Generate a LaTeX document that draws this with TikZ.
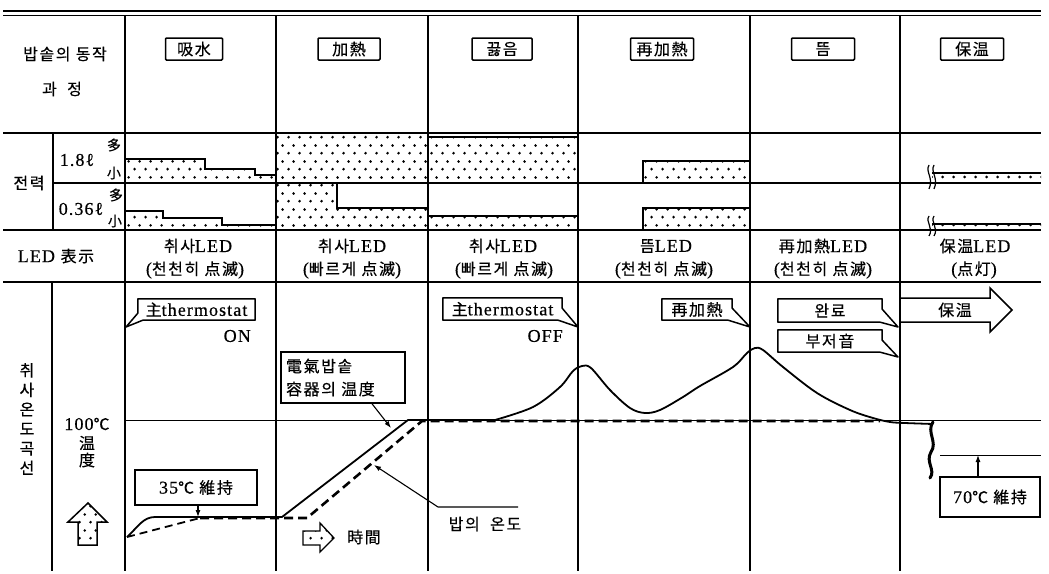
\documentclass[tikz,border=0pt]{standalone}
\usepackage{fontspec}
\setmainfont{Liberation Serif}[LetterSpace=6, FakeBold=0.5]
\newfontfamily\kr{Noto Sans CJK KR}[LetterSpace=10, FakeBold=0.4]
\usetikzlibrary{patterns.meta,arrows.meta}
\newcommand\KR[1]{{\kr\fontsize{16}{19}\selectfont #1}}
\newcommand\KRs[1]{{\kr\fontsize{14}{16}\selectfont #1}}
\tikzdeclarepattern{name=sdots, type=uncolored, bottom left={(0pt,0pt)}, top right={(11pt,16pt)}, tile size={(11pt,16pt)}, code={\fill (2.75pt,4pt) circle [radius=1.5pt]; \fill (8.25pt,12pt) circle [radius=1.5pt];}}
\begin{document}
\begin{tikzpicture}[x=1pt,y=-1pt,
 every node/.style={inner sep=0pt, font=\fontsize{18}{21}\selectfont},
 rule/.style={line width=1.3pt},
 stagebox/.style={draw, line width=1.5pt, rounded corners=1pt, minimum height=22pt, font=\kr\fontsize{16}{19}\selectfont},
 bubble/.style={line width=1.5pt, line join=round},
 dotfill/.style={pattern={sdots}, pattern color=black},
 bartop/.style={line width=2.6pt},
 tcurve/.style={line width=1.8pt, line join=round},
 rice/.style={line width=2.6pt, dash pattern=on 9pt off 5pt},
 ricethin/.style={line width=1.8pt, dash pattern=on 8pt off 5pt},
 ptr/.style={line width=1.1pt, -{Latex[length=7pt,width=5pt]}},
 fatarrow/.style={draw, line width=1.5pt, line join=miter, dotfill},
]
\fill[white] (0,0) rectangle (1049,573);
\useasboundingbox (0,0) rectangle (1049,573);

% ---------- power bars ----------
\fill[dotfill] (126,183) -- (126,159) -- (205,159) -- (205,169) -- (255,169) -- (255,175) -- (276,175) -- (276,183) -- cycle;
\draw[bartop] (126,159) -- (205,159) -- (205,169) -- (255,169) -- (255,175) -- (276,175);
\fill[dotfill] (126,230) -- (126,211) -- (163,211) -- (163,218) -- (222,218) -- (222,225) -- (276,225) -- (276,230) -- cycle;
\draw[bartop] (126,211) -- (163,211) -- (163,218) -- (222,218) -- (222,225) -- (276,225);
\fill[dotfill] (276,134) rectangle (428,183);
\fill[dotfill] (276,184) -- (337,184) -- (337,208) -- (428,208) -- (428,230) -- (276,230) -- cycle;
\draw[bartop] (337,184) -- (337,208) -- (428,208);
\fill[dotfill] (428,137) rectangle (578,183);
\draw[bartop] (428,137) -- (578,137);
\fill[dotfill] (428,216) rectangle (578,230);
\draw[bartop] (428,216) -- (578,216);
\fill[dotfill] (643,161) rectangle (750,183);
\draw[bartop] (643,183) -- (643,161) -- (750,161);
\fill[dotfill] (643,208) rectangle (750,230);
\draw[bartop] (643,230) -- (643,208) -- (750,208);
\fill[dotfill] (932,173) rectangle (1041,183);
\draw[bartop] (932,173) -- (1041,173);
\fill[dotfill] (932,224) rectangle (1041,230);
\draw[bartop] (932,224) -- (1041,224);
\draw[line width=1.2pt] (929,165) .. controls (925,172) and (934,178) .. (929,189);
\draw[line width=1.2pt] (934,165) .. controls (930,172) and (939,178) .. (934,189);
\draw[line width=1.2pt] (929,216) .. controls (925,222) and (934,228) .. (929,236);
\draw[line width=1.2pt] (934,216) .. controls (930,222) and (939,228) .. (934,236);

% ---------- grid ----------
\draw[line width=2.4pt] (3,11) -- (1041,11);
\draw[line width=0.8pt] (3,15.5) -- (1041,15.5);
\draw[rule] (3,133) -- (1041,133);
\draw[rule] (53,183) -- (1041,183);
\draw[rule] (3,230) -- (1041,230);
\draw[rule] (3,282) -- (1041,282);
\foreach \x in {125,276,428,578,750,900} \draw[rule] (\x,15) -- (\x,571);
\draw[rule] (53,133) -- (53,230);
\draw[rule] (52,282) -- (52,571);
\draw[line width=0.9pt] (125,420) -- (1041,420);
\draw[line width=0.9pt] (940,455) -- (1041,455);

% ---------- header row ----------
\node (r1a) at (65,54) {\KR{밥솥의\ 동작}};
\node (r1b) at (62,89) {\KR{과\ \ 정}};
\node[stagebox, minimum width=57pt] (s1) at (194,49) {吸水};
\node[stagebox, minimum width=62pt] (s2) at (349,49) {加熱};
\node[stagebox, minimum width=60pt] (s3) at (502,49) {끓음};
\node[stagebox, minimum width=63pt] (s4) at (662,49) {再加熱};
\node[stagebox, minimum width=63pt] (s5) at (823,49) {뜸};
\node[stagebox, minimum width=63pt] (s6) at (972,49) {保温};

% ---------- power labels ----------
\node (pw) at (29,183) {\KR{전력}};
\node (l18) at (77,160) {1.8ℓ};
\node (m18) at (114,145) {\KRs{多}};
\node (n18) at (114,173) {\KRs{小}};
\node (l036) at (81,209) {0.36ℓ};
\node (m036) at (116,195) {\KRs{多}};
\node (n036) at (115,221) {\KRs{小}};

% ---------- LED row ----------
\node (ledl) at (56,256) {LED \KR{表示}};
\node (e1a) at (198,246) {\KR{취사}LED};
\node (e1b) at (195,270) {(\KR{천천히 点滅})};
\node (e2a) at (352,246) {\KR{취사}LED};
\node (e2b) at (352,270) {(\KR{빠르게 点滅})};
\node (e3a) at (503,246) {\KR{취사}LED};
\node (e3b) at (504,270) {(\KR{빠르게 点滅})};
\node (e4a) at (666,246) {\KR{뜸}LED};
\node (e4b) at (664,270) {(\KR{천천히 点滅})};
\node (e5a) at (823,246) {\KR{再加熱}LED};
\node (e5b) at (823,270) {(\KR{천천히 点滅})};
\node (e6a) at (975,246) {\KR{保温}LED};
\node (e6b) at (974,270) {(\KR{点灯})};

% ---------- temperature row labels ----------
\node[align=center, font=\kr\fontsize{16}{19.5}\selectfont] (tl) at (27,419) {취\\사\\온\\도\\곡\\선};
\node (t100) at (87,424) {100\KR{℃}};
\node (twen) at (87,443) {\KR{温}};
\node (tdo) at (87,460) {\KR{度}};
\draw[fatarrow] (88,503) -- (107,522) -- (97,522) -- (97,545) -- (78,545) -- (78,522) -- (68,522) -- cycle;

% ---------- curves ----------
\draw[tcurve] (127,537) .. controls (138,527) and (143,517) .. (155,517) -- (282,517) -- (408,420) -- (495,420);
\draw[tcurve] plot[smooth, tension=0.55] coordinates {(495,420) (533,407) (560,387) (573,371) (582,366) (591,368) (610,390) (630,408) (645,413) (660,410) (683,397) (700,386) (733,367) (747,353) (755,348) (763,350) (783,367) (817,393) (850,410) (873,418) (890,422) (905,423) (933,424)};
\draw[ricethin] (127,537) -- (200,518);
\draw[rice] (200,518) -- (307,518) -- (422,421) -- (880,421);
\draw[line width=3pt, line cap=round] (933,422) .. controls (926,432) and (938,442) .. (931,452) .. controls (925,462) and (936,470) .. (930,478);

% ---------- callouts ----------
\node[minimum width=117pt, minimum height=21pt] (c1) at (196.5,309.5) {\KR{主}thermostat};
\coordinate (t1) at (126,327);
\draw[bubble] (c1.north west) -- (c1.north east) -- (c1.south east) -- ([xshift=5pt]c1.south west) -- (t1) -- ([yshift=7pt]c1.south west) -- cycle;
\node[anchor=east] (on) at (251,336) {ON};

\node[minimum width=119pt, minimum height=22pt] (c2) at (502.5,309) {\KR{主}thermostat};
\coordinate (t2) at (578,327);
\draw[bubble] (c2.south west) -- (c2.north west) -- (c2.north east) -- ([yshift=12pt]c2.south east) -- (t2) -- ([xshift=-4pt]c2.south east) -- cycle;
\node[anchor=east] (off) at (563,336) {OFF};

\node[minimum width=70pt, minimum height=21pt] (c3) at (697,309.5) {\KR{再加熱}};
\coordinate (t3) at (750,327);
\draw[bubble] (c3.south west) -- (c3.north west) -- (c3.north east) -- ([yshift=12pt]c3.south east) -- (t3) -- ([xshift=-4pt]c3.south east) -- cycle;

\node[minimum width=104pt, minimum height=23pt] (c4) at (830,310.5) {\KR{완료}};
\coordinate (t4) at (898,327);
\draw[bubble] (c4.south west) -- (c4.north west) -- (c4.north east) -- ([yshift=13pt]c4.south east) -- (t4) -- ([xshift=-2pt]c4.south east) -- cycle;

\node[minimum width=104pt, minimum height=22pt] (c5) at (830,341) {\KR{부저音}};
\coordinate (t5) at (898,357);
\draw[bubble] (c5.south west) -- (c5.north west) -- (c5.north east) -- ([yshift=12pt]c5.south east) -- (t5) -- ([xshift=-2pt]c5.south east) -- cycle;

\node (kw) at (955,310) {\KR{保温}};
\draw[line width=1.5pt, line join=miter] (900,298) -- (990,298) -- (990,288) -- (1012,310) -- (990,332) -- (990,322) -- (900,322);

% container temperature box
\node[draw, line width=1.5pt, minimum width=124pt, minimum height=51pt, align=left, text width=114pt, font=\kr\fontsize{16}{23}\selectfont] (c8) at (343,377.5) {電氣밥솥\\容器의 温度};
\coordinate (p8) at (391,428);
\draw[ptr] ([xshift=29pt]c8.south) -- (p8);

% 35C box
\node[draw, line width=1.5pt, minimum width=122pt, minimum height=35pt] (c6) at (196,487.5) {35\KR{℃ 維持}};
\coordinate (p6) at (198,517);
\draw[ptr] (c6.south -| p6) -- (p6);

% 70C box
\node[draw, line width=1.5pt, minimum width=100pt, minimum height=40pt] (c7) at (990,497) {70\KR{℃ 維持}};
\coordinate (p7) at (978,455);
\draw[ptr] (c7.north -| p7) -- (p7);

% rice temperature
\node (rt) at (485,524) {\KR{밥의 \ 온도}};
\coordinate (r1) at (518,507);
\coordinate (r2) at (438,507);
\coordinate (r3) at (374,465);
\draw[ptr] (r1) -- (r2) -- (r3);

% time arrow
\draw[fatarrow, line width=1.3pt] (303,531) -- (320,531) -- (320,523) -- (334,538) -- (320,552) -- (320,545) -- (303,545) -- cycle;
\node (tm) at (364,537) {\KR{時間}};
\end{tikzpicture}
\end{document}
